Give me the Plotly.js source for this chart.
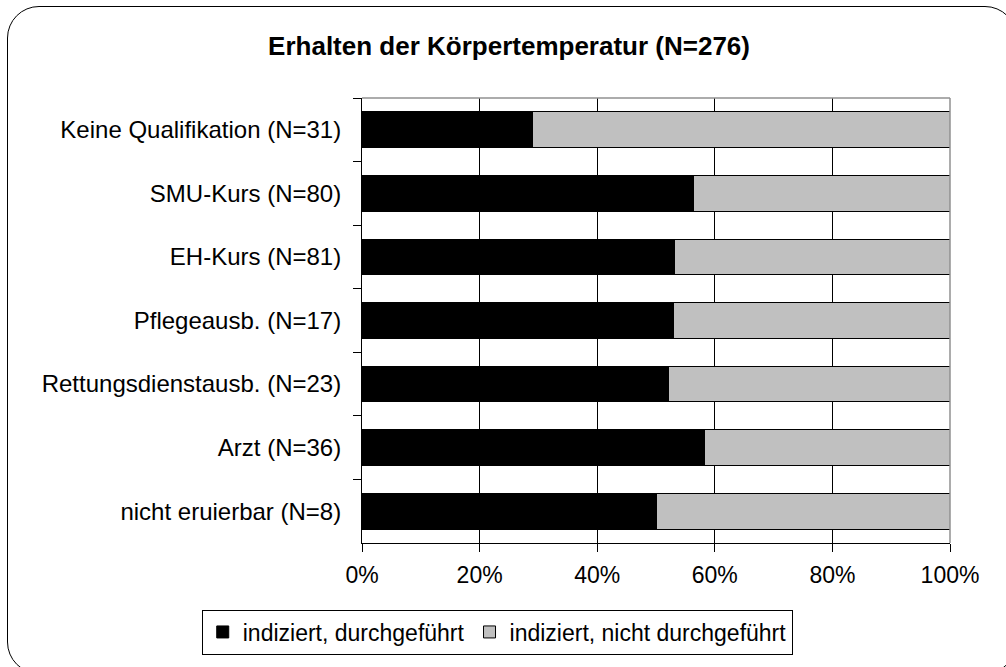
<!DOCTYPE html>
<html>
<head>
<meta charset="utf-8">
<script src="https://cdn.plot.ly/plotly-3.0.1.min.js"></script>
<style>
  html, body { margin: 0; padding: 0; background: #fff; overflow: hidden; }
  #wrap { position: relative; width: 1006px; height: 667px; }
  #chart { width: 1006px; height: 667px; }
  #frame { position: absolute; left: 7px; top: 6px; width: 1010px; height: 668px;
           border: 1.5px solid #000; border-radius: 32px; pointer-events: none; box-sizing: border-box; }
</style>
</head>
<body>
<div id="wrap">
  <div id="chart"></div>
  <div id="frame"></div>
</div>
<script>
const categories = [
  "Keine Qualifikation (N=31)",
  "SMU-Kurs (N=80)",
  "EH-Kurs (N=81)",
  "Pflegeausb. (N=17)",
  "Rettungsdienstausb. (N=23)",
  "Arzt (N=36)",
  "nicht eruierbar (N=8)"
];
const durchgefuehrt = [29.0, 56.3, 53.1, 52.9, 52.2, 58.3, 50.0];
const nichtDurchgefuehrt = [71.0, 43.7, 46.9, 47.1, 47.8, 41.7, 50.0];
const xTickVals = [0, 20, 40, 60, 80, 100];
const xTickText = ["0%", "20%", "40%", "60%", "80%", "100%"];
const seriesNames = ["indiziert, durchgeführt", "indiziert, nicht durchgeführt"];
const titleText = "Erhalten der Körpertemperatur (N=276)";

const font = "Liberation Sans, Arial, sans-serif";

const traces = [
  {
    type: "bar", orientation: "h", name: seriesNames[0],
    y: categories, x: durchgefuehrt,
    marker: { color: "#000000", line: { color: "#000000", width: 1 } },
    hoverinfo: "x+y"
  },
  {
    type: "bar", orientation: "h", name: seriesNames[1],
    y: categories, x: nichtDurchgefuehrt,
    marker: { color: "#c0c0c0", line: { color: "#000000", width: 1 } },
    hoverinfo: "x+y"
  }
];

const layout = {
  width: 1006, height: 667,
  margin: { l: 362, r: 56, t: 98, b: 118, pad: 0 },
  paper_bgcolor: "rgba(0,0,0,0)",
  plot_bgcolor: "#ffffff",
  font: { family: font, size: 23, color: "#000" },
  barmode: "stack",
  bargap: 0.44,
  title: {
    text: "<b>" + titleText + "</b>",
    font: { family: font, size: 26, color: "#000" },
    x: 0.506, xanchor: "center", y: 0.931, yanchor: "middle", yref: "container"
  },
  xaxis: {
    range: [0, 100],
    tickvals: xTickVals, ticktext: xTickText,
    ticks: "outside", ticklen: 8, tickcolor: "#000", tickwidth: 1,
    showgrid: true, gridcolor: "#000", gridwidth: 1,
    zeroline: false,
    showline: true, linecolor: "#000", linewidth: 1,
    tickfont: { family: font, size: 23 },
    ticklabelstandoff: 3,
    fixedrange: true
  },
  yaxis: {
    type: "category",
    categoryorder: "array", categoryarray: categories,
    autorange: "reversed",
    ticks: "outside", ticklen: 8, tickcolor: "#000", tickwidth: 1,
    tickson: "boundaries",
    showgrid: false, zeroline: false,
    showline: true, linecolor: "#000", linewidth: 1,
    tickfont: { family: font, size: 24 },
    ticklabelstandoff: 15,
    fixedrange: true
  },
  shapes: [
    { type: "line", xref: "paper", yref: "paper", x0: 0, x1: 1, y0: 1, y1: 1, line: { color: "#909090", width: 1.5 } },
    { type: "line", xref: "paper", yref: "paper", x0: 1, x1: 1, y0: 0, y1: 1, line: { color: "#909090", width: 1.5 } }
  ],
  showlegend: true,
  legend: {
    orientation: "h",
    x: 0.23, xanchor: "center",
    y: -0.2, yanchor: "middle",
    bordercolor: "#000", borderwidth: 1,
    bgcolor: "#fff",
    font: { family: font, size: 23 },
    itemwidth: 30,
    tracegroupgap: 0,
    traceorder: "normal"
  }
};

Plotly.newPlot("chart", traces, layout, { displayModeBar: false, staticPlot: true });
</script>
</body>
</html>
